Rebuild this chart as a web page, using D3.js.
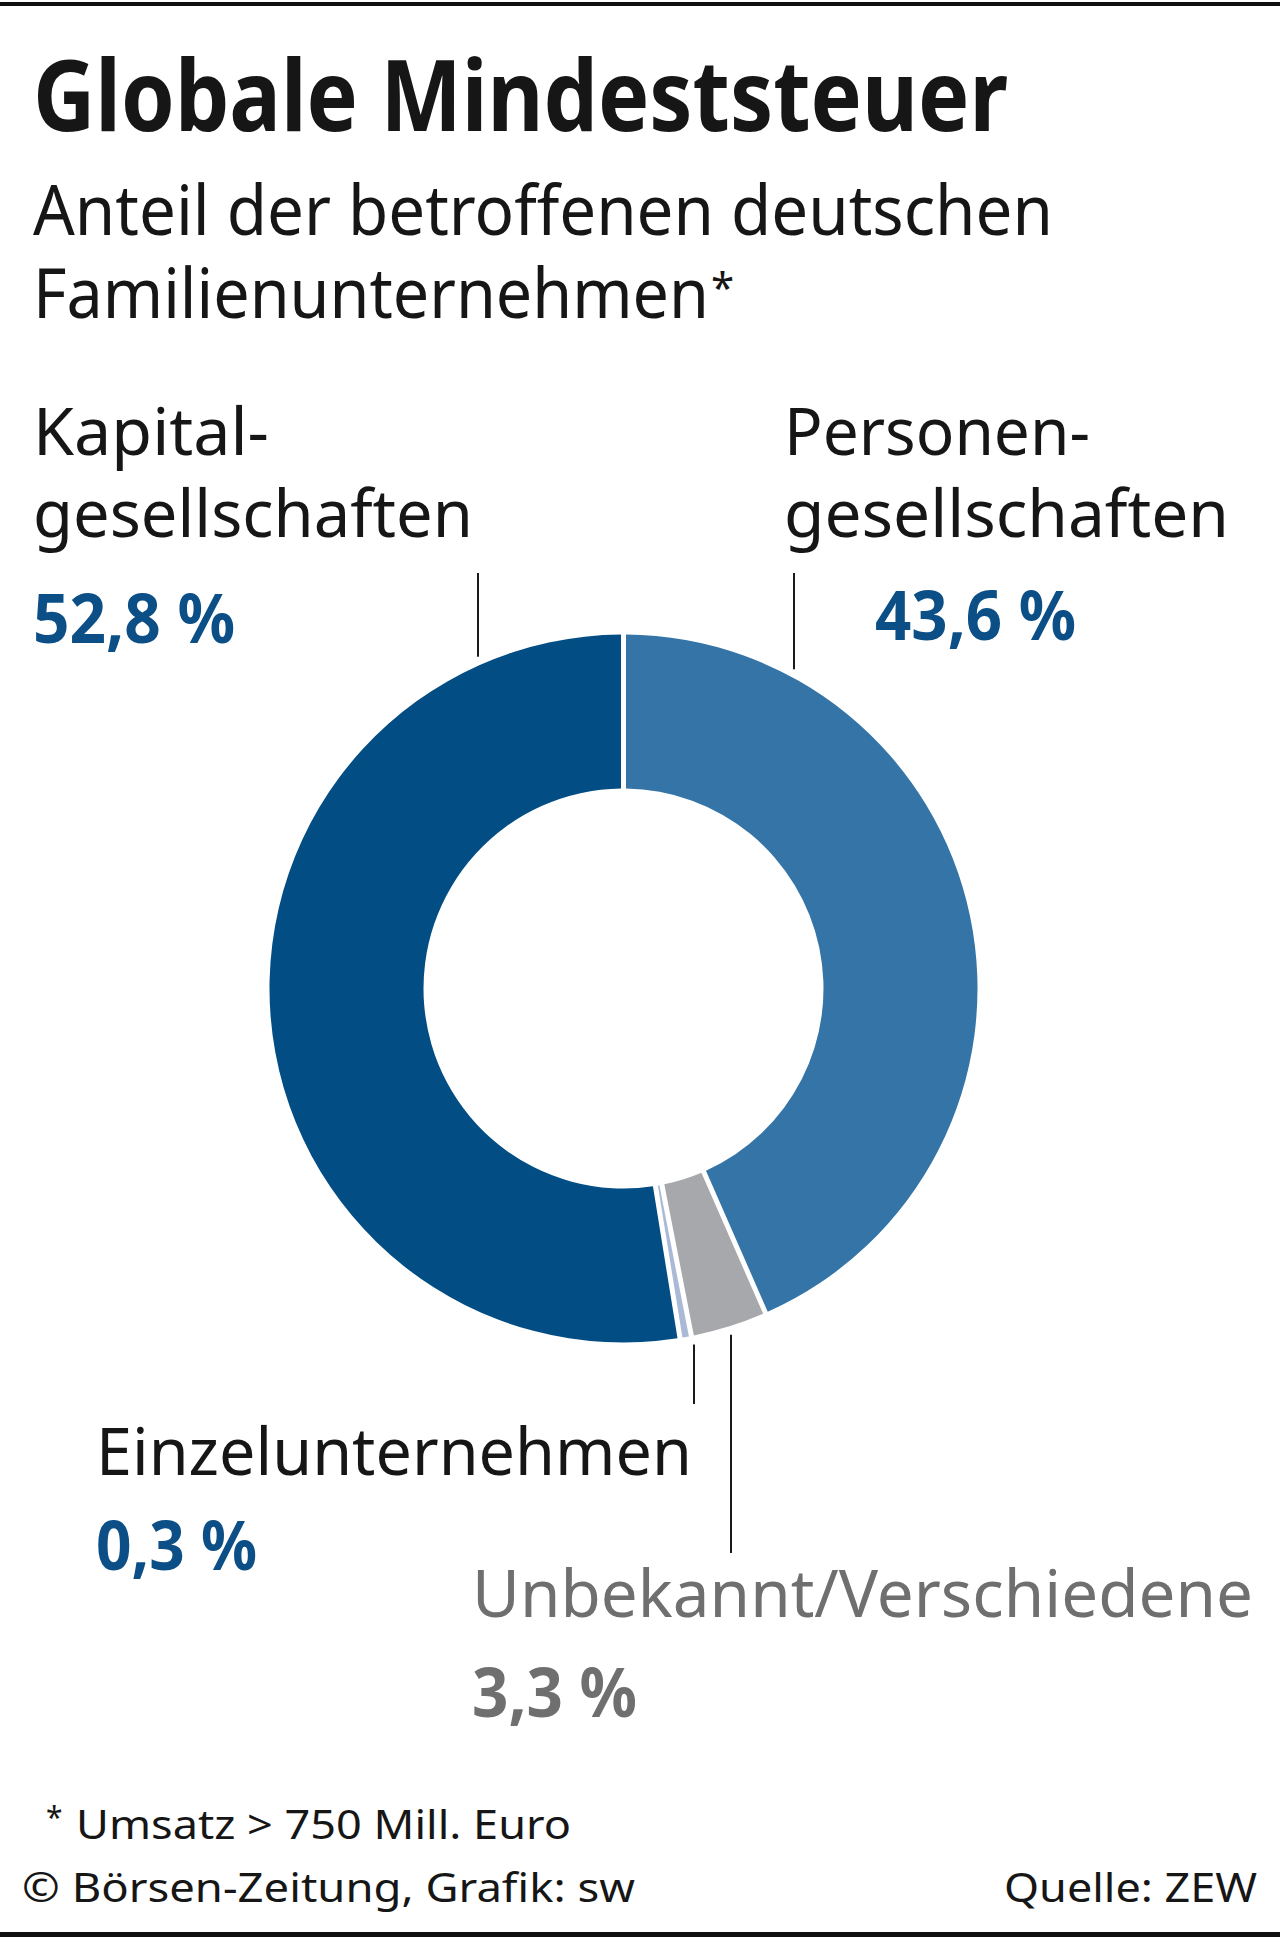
<!DOCTYPE html>
<html>
<head>
<meta charset="utf-8">
<script src="https://cdn.jsdelivr.net/npm/d3@7"></script>
<style>
  html, body { margin: 0; padding: 0; background: #fff; }
  svg { display: block; }
  text { font-family: "Noto Sans", "Open Sans", sans-serif; }
</style>
</head>
<body>
<script>
// ---- data ----
const categories = ["Personengesellschaften", "Unbekannt/Verschiedene", "Einzelunternehmen", "Kapitalgesellschaften"];
const values = [43.6, 3.3, 0.3, 52.8];
const valueLabels = ["43,6 %", "3,3 %", "0,3 %", "52,8 %"];
const labelLines = [["Personen-", "gesellschaften"], ["Unbekannt/Verschiedene"], ["Einzelunternehmen"], ["Kapital-", "gesellschaften"]];
const title = "Globale Mindeststeuer";
const subtitle = ["Anteil der betroffenen deutschen", "Familienunternehmen"];
const footnoteMark = "*";
const footnote = "Umsatz > 750 Mill. Euro";
const credit = "© Börsen-Zeitung, Grafik: sw";
const source = "Quelle: ZEW";

// ---- layout ----
const W = 1280, H = 1937;
const cx = 623.5, cy = 988.5, rOuter = 354, rInner = 200;
const colors = d3.scaleOrdinal().domain(categories).range(["#3474a6", "#a7a8ac", "#a9b9d6", "#024d83"]);
const BLUE = "#0b4f86", GRAY = "#6f6f6f", INK = "#161616";

const svg = d3.select("body").append("svg").attr("width", W).attr("height", H);
svg.append("rect").attr("width", W).attr("height", H).attr("fill", "#fff");

// borders
svg.append("rect").attr("x", 0).attr("y", 2).attr("width", W).attr("height", 4).attr("fill", "#111");
svg.append("rect").attr("x", 0).attr("y", 1932).attr("width", W).attr("height", 5).attr("fill", "#111");

function txt(s, x, y, w, size, opts = {}) {
  const t = svg.append("text")
    .attr("x", x).attr("y", y)
    .attr("font-size", size)
    .attr("font-weight", opts.weight || 400)
    .attr("fill", opts.fill || INK)
    .attr("text-anchor", opts.anchor || "start")
    .text(s);
  if (w) t.attr("textLength", w).attr("lengthAdjust", "spacingAndGlyphs");
  return t;
}

// multi-line block: one <text>, one <tspan> per line
function block(lines, x, y0, lh, widths, size, opts = {}) {
  const t = svg.append("text")
    .attr("font-size", size)
    .attr("font-weight", opts.weight || 400)
    .attr("fill", opts.fill || INK);
  lines.forEach((s, i) => {
    t.append("tspan")
      .attr("x", x).attr("y", y0 + i * lh)
      .attr("textLength", widths[i]).attr("lengthAdjust", "spacingAndGlyphs")
      .text(s);
  });
  return t;
}

// title & subtitle
txt(title, 33, 131, 975, 98, { weight: 700 });
const sub = block(subtitle, 33, 235, 83, [1020, 676], 69);
sub.append("tspan").attr("x", 711).attr("y", 303).attr("font-size", 42).text(footnoteMark);

// donut
const pie = d3.pie().sort(null).value(d => d).padAngle(5 / rOuter);
const arc = d3.arc().innerRadius(rInner).outerRadius(rOuter).padRadius(rOuter);
const arcs = pie(values);
const g = svg.append("g").attr("transform", `translate(${cx},${cy})`);
g.selectAll("path").data(arcs).join("path")
  .attr("d", arc)
  .attr("fill", (d, i) => colors(categories[i]));

// leader lines: vertical, ending a small gap from the outer ring
const leaderSpec = [
  { i: 0, x: 794, y0: 573, side: "top" },
  { i: 1, x: 731, y0: 1553, side: "bottom" },
  { i: 2, x: 694, y0: 1404, side: "bottom" },
  { i: 3, x: 478, y0: 573, side: "top" }
];
const gap = 9;
leaderSpec.forEach(s => {
  const dx = s.x - cx;
  const dy = Math.sqrt(rOuter * rOuter - dx * dx);
  const yEdge = s.side === "top" ? cy - dy - gap : cy + dy + gap;
  svg.append("line")
    .attr("x1", s.x).attr("x2", s.x)
    .attr("y1", s.y0).attr("y2", yEdge)
    .attr("stroke", "#1a1a1a").attr("stroke-width", 2);
});

// labels
// Personengesellschaften
block(labelLines[0], 784, 455, 82, [306, 445], 66);
txt(valueLabels[0], 875, 640, 201, 68, { weight: 700, fill: BLUE });
// Kapitalgesellschaften
block(labelLines[3], 33, 455, 82, [236, 440], 66);
txt(valueLabels[3], 33, 643, 202, 68, { weight: 700, fill: BLUE });
// Einzelunternehmen
txt(labelLines[2][0], 96, 1475, 596, 66);
txt(valueLabels[2], 96, 1570, 161, 68, { weight: 700, fill: BLUE });
// Unbekannt/Verschiedene
txt(labelLines[1][0], 472, 1617, 781, 66, { fill: GRAY });
txt(valueLabels[1], 472, 1717, 165, 68, { weight: 700, fill: GRAY });

// footer
const fn = svg.append("text").attr("font-size", 40).attr("fill", INK);
fn.append("tspan").attr("x", 46).attr("y", 1828).attr("font-size", 30).text(footnoteMark);
fn.append("tspan").attr("x", 76).attr("y", 1839)
  .attr("textLength", 495).attr("lengthAdjust", "spacingAndGlyphs").text(footnote);
txt(credit, 22, 1902, 613, 40);
txt(source, 1257, 1902, 253, 40, { anchor: "end" });
</script>
</body>
</html>
